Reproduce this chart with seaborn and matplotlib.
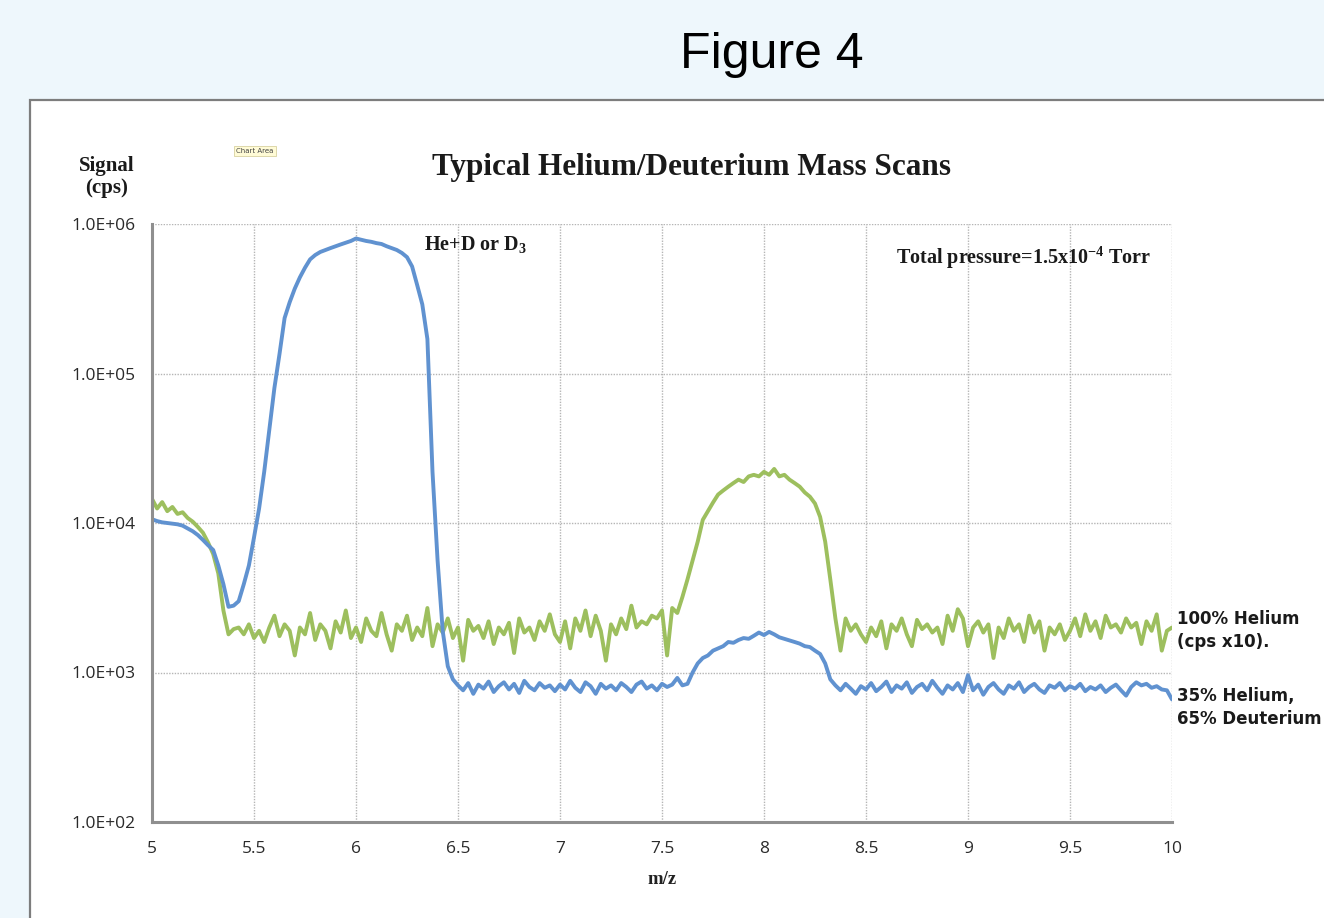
import numpy as np
import pandas as pd
import matplotlib
matplotlib.use("Agg")
import matplotlib.pyplot as plt
from matplotlib.patches import Rectangle
from matplotlib.ticker import FixedLocator, FixedFormatter
import seaborn as sns

# ---------------- data ----------------
mz = np.round(np.linspace(5.0, 10.0, 201), 3)

he35_d65 = [
    10600, 10300, 10100, 10000, 9900, 9800, 9600, 9200, 8800, 8300,
    7700, 7100, 6600, 5200, 3900, 2750, 2800, 3000, 3900, 5200,
    8000, 12500, 22000, 42000, 80000, 135000, 235000, 300000, 370000, 440000,
    510000, 580000, 620000, 650000, 670000, 690000, 710000, 730000, 750000, 770000,
    800000, 785000, 770000, 760000, 745000, 735000, 710000, 690000, 670000, 640000,
    600000, 520000, 390000, 290000, 170000, 22000, 5600, 1900, 1100, 900,
    820, 760, 850, 720, 830, 780, 870, 740, 810, 860,
    770, 840, 730, 880, 800, 760, 850, 790, 820, 750,
    830, 770, 880, 790, 740, 860, 810, 720, 840, 780,
    820, 760, 850, 800, 740, 830, 870, 780, 820, 760,
    840, 800, 830, 920, 820, 840, 1000, 1150, 1250, 1300,
    1400, 1450, 1500, 1600, 1580, 1650, 1700, 1680, 1760, 1850,
    1780, 1870, 1800, 1720, 1680, 1640, 1600, 1560, 1500, 1480,
    1400, 1330, 1150, 900, 820, 760, 840, 780, 720, 810,
    770, 850, 750, 800, 870, 740, 820, 780, 860, 730,
    800, 840, 760, 880, 790, 720, 820, 770, 850, 740,
    960, 760, 830, 710, 800, 850, 770, 720, 820, 780,
    860, 740, 800, 840, 770, 730, 820, 790, 850, 760,
    810, 780, 840, 750, 800, 770, 820, 740, 790, 830,
    760, 700, 800, 860, 820, 840, 790, 810, 770, 760,
    660,
]

he100_x10 = [
    14500, 12500, 13800, 12000, 12800, 11500, 11800, 10800, 10200, 9400,
    8600, 7400, 6200, 4600, 2600, 1800, 1950, 2000, 1800, 2100,
    1700, 1900, 1600, 2000, 2400, 1750, 2100, 1900, 1300, 2000,
    1800, 2500, 1650, 2100, 1900, 1450, 2200, 1850, 2600, 1700,
    2000, 1600, 2300, 1900, 1750, 2500, 1800, 1400, 2100, 1900,
    2400, 1650, 2000, 1750, 2700, 1500, 2100, 1850, 2300, 1700,
    2000, 1200, 2250, 1900, 2050, 1700, 2200, 1550, 2000, 1800,
    2150, 1350, 2300, 1850, 2000, 1650, 2200, 1900, 2450, 1800,
    1600, 2200, 1450, 2300, 1900, 2600, 1750, 2400, 1900, 1200,
    2100, 1800, 2300, 1950, 2800, 2000, 2200, 2100, 2400, 2300,
    2600, 1300, 2700, 2500, 3200, 4200, 5600, 7500, 10500, 12000,
    13700, 15500, 16500, 17500, 18500, 19500, 18800, 20500, 21000, 20500,
    22000, 21000, 23000, 20500, 21000, 19500, 18500, 17500, 16000, 15000,
    13500, 11000, 7500, 4200, 2300, 1400, 2300, 1900, 2100, 1800,
    1600, 2000, 1750, 2200, 1450, 2100, 1900, 2300, 1800, 1500,
    2250, 1950, 2100, 1850, 2000, 1550, 2400, 1900, 2650, 2300,
    1500, 2000, 2200, 1850, 2100, 1250, 2000, 1700, 2300, 1900,
    2100, 1600, 2400, 1850, 2200, 1400, 2000, 1800, 2100, 1650,
    1900, 2300, 1750, 2450, 1900, 2200, 1700, 2400, 2000, 2100,
    1850, 2300, 2000, 2150, 1550, 2200, 1900, 2450, 1400, 1900,
    2000,
]

series_names = ["35% Helium,\n65% Deuterium", "100% Helium\n(cps x10)."]
xticks = [5, 5.5, 6, 6.5, 7, 7.5, 8, 8.5, 9, 9.5, 10]
xtick_labels = ["5", "5.5", "6", "6.5", "7", "7.5", "8", "8.5", "9", "9.5", "10"]
yticks = [1e2, 1e3, 1e4, 1e5, 1e6]
ytick_labels = ["1.0E+02", "1.0E+03", "1.0E+04", "1.0E+05", "1.0E+06"]

df = pd.concat([
    pd.DataFrame({"m/z": mz, "cps": he35_d65, "series": series_names[0]}),
    pd.DataFrame({"m/z": mz, "cps": he100_x10, "series": series_names[1]}),
])

# ---------------- style ----------------
sns.set_style("white")
plt.rcParams["font.family"] = ["DejaVu Sans"]
plt.rcParams["mathtext.default"] = "regular"
plt.rcParams["axes.unicode_minus"] = False

W, H = 1324, 918
fig = plt.figure(figsize=(W / 100, H / 100), dpi=100)
fig.patch.set_facecolor("#EEF7FC")

# white chart panel with grey border
fig.patches.append(Rectangle((30 / W, -0.05), 1.2, (H - 100) / H + 0.05,
                             transform=fig.transFigure, facecolor="white",
                             edgecolor="#7d7d7d", lw=1.6, zorder=-1))

ax = fig.add_axes([152 / W, 1 - 822 / H, (1172 - 152) / W, (822 - 224) / H])
ax.set_facecolor("none")

palette = {series_names[0]: "#6092D0", series_names[1]: "#9DBF5E"}
sns.lineplot(data=df, x="m/z", y="cps", hue="series", palette=palette,
             hue_order=[series_names[1], series_names[0]],
             linewidth=2.8, legend=False, ax=ax)

ax.set_yscale("log")
ax.set_xlim(5, 10)
ax.set_ylim(1e2, 1e6)
ax.xaxis.set_major_locator(FixedLocator(xticks))
ax.xaxis.set_major_formatter(FixedFormatter(xtick_labels))
ax.yaxis.set_major_locator(FixedLocator(yticks))
ax.yaxis.set_major_formatter(FixedFormatter(ytick_labels))
ax.yaxis.set_minor_locator(FixedLocator([]))

ax.grid(True, which="major", color="#b5b5b5", linestyle=(0, (1, 1)), linewidth=1.0)
for s in ["top", "right"]:
    ax.spines[s].set_visible(False)
for s in ["left", "bottom"]:
    ax.spines[s].set_color("#8f8f8f")
    ax.spines[s].set_linewidth(2.2)
ax.tick_params(axis="both", which="major", direction="out", length=6, width=1.6,
               color="#8f8f8f", labelcolor="#2a2a2a", labelsize=12.5)
ax.tick_params(axis="y", pad=6)
ax.tick_params(axis="x", pad=8)
for lab in ax.get_xticklabels() + ax.get_yticklabels():
    lab.set_family(["Open Sans", "DejaVu Sans"])

ax.set_xlabel("m/z", family=["Liberation Serif"], fontweight="bold", fontsize=13.5,
              color="#222222", labelpad=10)
ax.set_ylabel("")

# ---------------- texts ----------------
fig.text(772 / W, 1 - 55 / H, "Figure 4", ha="center", va="center",
         family=["Liberation Sans"], fontsize=36, color="black")
fig.text(692 / W, 1 - 168 / H, "Typical Helium/Deuterium Mass Scans", ha="center",
         va="center", family=["Liberation Serif"], fontweight="bold", fontsize=22.5,
         color="#1a1a1a")
fig.text(107 / W, 1 - 177 / H, "Signal\n(cps)", ha="center", va="center",
         family=["Liberation Serif"], fontweight="bold", fontsize=15,
         color="#1a1a1a", linespacing=1.2)
fig.text(255 / W, 1 - 151 / H, "Chart Area", ha="center", va="center", fontsize=5,
         family=["DejaVu Sans"], color="#444444",
         bbox=dict(boxstyle="square,pad=0.35", facecolor="#FFFBD6", edgecolor="#d8d2a0", lw=0.6))

ax.text(6.335, 7.3e5, r"He+D or D$_{3}$", ha="left", va="center",
        family=["Liberation Serif"], fontweight="bold", fontsize=14.5, color="#1a1a1a")
ax.text(9.27, 5.9e5, r"Total pressure=1.5x10$^{-4}$ Torr", ha="center", va="center",
        family=["Liberation Serif"], fontweight="bold", fontsize=14.5, color="#1a1a1a")

ax.text(10.025, 1900, series_names[1], ha="left", va="center",
        family=["DejaVu Sans"], fontweight="bold", fontsize=12, color="#1a1a1a",
        linespacing=1.35, clip_on=False)
ax.text(10.025, 580, series_names[0], ha="left", va="center",
        family=["DejaVu Sans"], fontweight="bold", fontsize=12, color="#1a1a1a",
        linespacing=1.35, clip_on=False)

fig.savefig("out.png", dpi=100, facecolor=fig.get_facecolor())
